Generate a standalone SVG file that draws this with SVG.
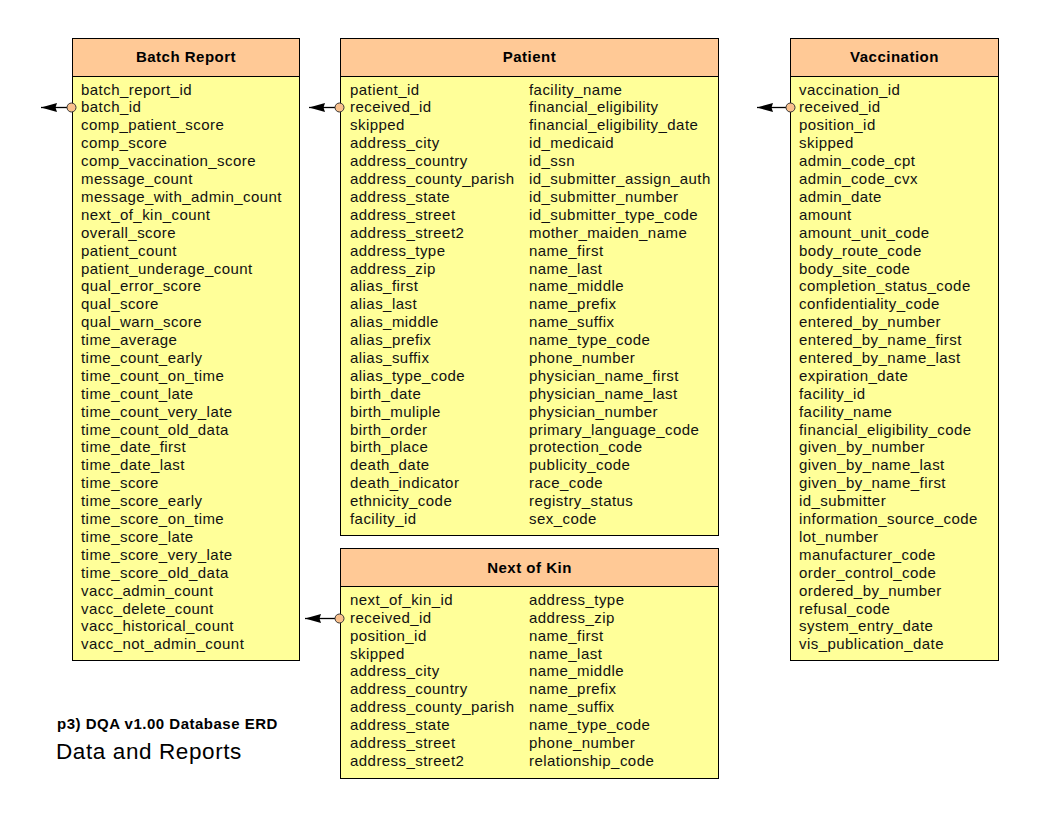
<svg xmlns="http://www.w3.org/2000/svg" width="1056" height="816" viewBox="0 0 1056 816">
<style>
.body{fill:#FFFF99;stroke:#000;stroke-width:1}
.hdr{fill:#FFC996;stroke:#000;stroke-width:1}
.ht{font-family:"Liberation Sans",Arial,sans-serif;font-size:15px;font-weight:bold;letter-spacing:0.5px;fill:#000;text-anchor:middle}
.f{font-family:"Liberation Sans",Arial,sans-serif;font-size:15px;letter-spacing:0.45px;fill:#111}
.ln{stroke:#000;stroke-width:1.3;fill:none}
.dot{fill:#F9C08C;stroke:#333;stroke-width:1}
.title{font-family:"Liberation Sans",Arial,sans-serif;font-size:15px;font-weight:bold;letter-spacing:0.5px;fill:#000}
.sub{font-family:"Liberation Sans",Arial,sans-serif;font-size:22.5px;letter-spacing:0.6px;fill:#000}
</style>
<defs>
<marker id="ah" viewBox="0 0 16 10" refX="16" refY="5" markerWidth="16" markerHeight="10" markerUnits="userSpaceOnUse" orient="auto">
<path d="M0,0.5 L16,5 L0,9.5 L1.5,5 Z" fill="#000"/>
</marker>
</defs>
<rect width="1056" height="816" fill="#fff"/>

<g id="batch_report">
<rect class="body" x="72.5" y="38.5" width="227" height="622"/>
<rect class="hdr" x="72.5" y="38.5" width="227" height="38"/>
<text class="ht" x="186" y="61.5">Batch Report</text>
<text class="f" y="94.5"><tspan x="81">batch_report_id</tspan><tspan x="81" dy="17.9">batch_id</tspan><tspan x="81" dy="17.9">comp_patient_score</tspan><tspan x="81" dy="17.9">comp_score</tspan><tspan x="81" dy="17.9">comp_vaccination_score</tspan><tspan x="81" dy="17.9">message_count</tspan><tspan x="81" dy="17.9">message_with_admin_count</tspan><tspan x="81" dy="17.9">next_of_kin_count</tspan><tspan x="81" dy="17.9">overall_score</tspan><tspan x="81" dy="17.9">patient_count</tspan><tspan x="81" dy="17.9">patient_underage_count</tspan><tspan x="81" dy="17.9">qual_error_score</tspan><tspan x="81" dy="17.9">qual_score</tspan><tspan x="81" dy="17.9">qual_warn_score</tspan><tspan x="81" dy="17.9">time_average</tspan><tspan x="81" dy="17.9">time_count_early</tspan><tspan x="81" dy="17.9">time_count_on_time</tspan><tspan x="81" dy="17.9">time_count_late</tspan><tspan x="81" dy="17.9">time_count_very_late</tspan><tspan x="81" dy="17.9">time_count_old_data</tspan><tspan x="81" dy="17.9">time_date_first</tspan><tspan x="81" dy="17.9">time_date_last</tspan><tspan x="81" dy="17.9">time_score</tspan><tspan x="81" dy="17.9">time_score_early</tspan><tspan x="81" dy="17.9">time_score_on_time</tspan><tspan x="81" dy="17.9">time_score_late</tspan><tspan x="81" dy="17.9">time_score_very_late</tspan><tspan x="81" dy="17.9">time_score_old_data</tspan><tspan x="81" dy="17.9">vacc_admin_count</tspan><tspan x="81" dy="17.9">vacc_delete_count</tspan><tspan x="81" dy="17.9">vacc_historical_count</tspan><tspan x="81" dy="17.9">vacc_not_admin_count</tspan></text>
</g>

<g id="patient">
<rect class="body" x="340.5" y="38.5" width="378" height="497"/>
<rect class="hdr" x="340.5" y="38.5" width="378" height="38"/>
<text class="ht" x="529.5" y="61.5">Patient</text>
<text class="f" y="94.5"><tspan x="350">patient_id</tspan><tspan x="350" dy="17.9">received_id</tspan><tspan x="350" dy="17.9">skipped</tspan><tspan x="350" dy="17.9">address_city</tspan><tspan x="350" dy="17.9">address_country</tspan><tspan x="350" dy="17.9">address_county_parish</tspan><tspan x="350" dy="17.9">address_state</tspan><tspan x="350" dy="17.9">address_street</tspan><tspan x="350" dy="17.9">address_street2</tspan><tspan x="350" dy="17.9">address_type</tspan><tspan x="350" dy="17.9">address_zip</tspan><tspan x="350" dy="17.9">alias_first</tspan><tspan x="350" dy="17.9">alias_last</tspan><tspan x="350" dy="17.9">alias_middle</tspan><tspan x="350" dy="17.9">alias_prefix</tspan><tspan x="350" dy="17.9">alias_suffix</tspan><tspan x="350" dy="17.9">alias_type_code</tspan><tspan x="350" dy="17.9">birth_date</tspan><tspan x="350" dy="17.9">birth_muliple</tspan><tspan x="350" dy="17.9">birth_order</tspan><tspan x="350" dy="17.9">birth_place</tspan><tspan x="350" dy="17.9">death_date</tspan><tspan x="350" dy="17.9">death_indicator</tspan><tspan x="350" dy="17.9">ethnicity_code</tspan><tspan x="350" dy="17.9">facility_id</tspan></text>
<text class="f" y="94.5"><tspan x="529">facility_name</tspan><tspan x="529" dy="17.9">financial_eligibility</tspan><tspan x="529" dy="17.9">financial_eligibility_date</tspan><tspan x="529" dy="17.9">id_medicaid</tspan><tspan x="529" dy="17.9">id_ssn</tspan><tspan x="529" dy="17.9">id_submitter_assign_auth</tspan><tspan x="529" dy="17.9">id_submitter_number</tspan><tspan x="529" dy="17.9">id_submitter_type_code</tspan><tspan x="529" dy="17.9">mother_maiden_name</tspan><tspan x="529" dy="17.9">name_first</tspan><tspan x="529" dy="17.9">name_last</tspan><tspan x="529" dy="17.9">name_middle</tspan><tspan x="529" dy="17.9">name_prefix</tspan><tspan x="529" dy="17.9">name_suffix</tspan><tspan x="529" dy="17.9">name_type_code</tspan><tspan x="529" dy="17.9">phone_number</tspan><tspan x="529" dy="17.9">physician_name_first</tspan><tspan x="529" dy="17.9">physician_name_last</tspan><tspan x="529" dy="17.9">physician_number</tspan><tspan x="529" dy="17.9">primary_language_code</tspan><tspan x="529" dy="17.9">protection_code</tspan><tspan x="529" dy="17.9">publicity_code</tspan><tspan x="529" dy="17.9">race_code</tspan><tspan x="529" dy="17.9">registry_status</tspan><tspan x="529" dy="17.9">sex_code</tspan></text>
</g>

<g id="vaccination">
<rect class="body" x="790.5" y="38.5" width="208" height="622"/>
<rect class="hdr" x="790.5" y="38.5" width="208" height="38"/>
<text class="ht" x="894.5" y="61.5">Vaccination</text>
<text class="f" y="94.5"><tspan x="799">vaccination_id</tspan><tspan x="799" dy="17.9">received_id</tspan><tspan x="799" dy="17.9">position_id</tspan><tspan x="799" dy="17.9">skipped</tspan><tspan x="799" dy="17.9">admin_code_cpt</tspan><tspan x="799" dy="17.9">admin_code_cvx</tspan><tspan x="799" dy="17.9">admin_date</tspan><tspan x="799" dy="17.9">amount</tspan><tspan x="799" dy="17.9">amount_unit_code</tspan><tspan x="799" dy="17.9">body_route_code</tspan><tspan x="799" dy="17.9">body_site_code</tspan><tspan x="799" dy="17.9">completion_status_code</tspan><tspan x="799" dy="17.9">confidentiality_code</tspan><tspan x="799" dy="17.9">entered_by_number</tspan><tspan x="799" dy="17.9">entered_by_name_first</tspan><tspan x="799" dy="17.9">entered_by_name_last</tspan><tspan x="799" dy="17.9">expiration_date</tspan><tspan x="799" dy="17.9">facility_id</tspan><tspan x="799" dy="17.9">facility_name</tspan><tspan x="799" dy="17.9">financial_eligibility_code</tspan><tspan x="799" dy="17.9">given_by_number</tspan><tspan x="799" dy="17.9">given_by_name_last</tspan><tspan x="799" dy="17.9">given_by_name_first</tspan><tspan x="799" dy="17.9">id_submitter</tspan><tspan x="799" dy="17.9">information_source_code</tspan><tspan x="799" dy="17.9">lot_number</tspan><tspan x="799" dy="17.9">manufacturer_code</tspan><tspan x="799" dy="17.9">order_control_code</tspan><tspan x="799" dy="17.9">ordered_by_number</tspan><tspan x="799" dy="17.9">refusal_code</tspan><tspan x="799" dy="17.9">system_entry_date</tspan><tspan x="799" dy="17.9">vis_publication_date</tspan></text>
</g>

<g id="next_of_kin">
<rect class="body" x="340.5" y="548.5" width="378" height="230"/>
<rect class="hdr" x="340.5" y="548.5" width="378" height="38"/>
<text class="ht" x="529.5" y="572.5">Next of Kin</text>
<text class="f" y="604.8"><tspan x="350">next_of_kin_id</tspan><tspan x="350" dy="17.9">received_id</tspan><tspan x="350" dy="17.9">position_id</tspan><tspan x="350" dy="17.9">skipped</tspan><tspan x="350" dy="17.9">address_city</tspan><tspan x="350" dy="17.9">address_country</tspan><tspan x="350" dy="17.9">address_county_parish</tspan><tspan x="350" dy="17.9">address_state</tspan><tspan x="350" dy="17.9">address_street</tspan><tspan x="350" dy="17.9">address_street2</tspan></text>
<text class="f" y="604.8"><tspan x="529">address_type</tspan><tspan x="529" dy="17.9">address_zip</tspan><tspan x="529" dy="17.9">name_first</tspan><tspan x="529" dy="17.9">name_last</tspan><tspan x="529" dy="17.9">name_middle</tspan><tspan x="529" dy="17.9">name_prefix</tspan><tspan x="529" dy="17.9">name_suffix</tspan><tspan x="529" dy="17.9">name_type_code</tspan><tspan x="529" dy="17.9">phone_number</tspan><tspan x="529" dy="17.9">relationship_code</tspan></text>
</g>

<g id="connectors">
<path class="ln" d="M67,107.5 H41" marker-end="url(#ah)"/>
<circle class="dot" cx="71.5" cy="107.5" r="4.5"/>
<path class="ln" d="M335,107.5 H309" marker-end="url(#ah)"/>
<circle class="dot" cx="339.5" cy="107.5" r="4.5"/>
<path class="ln" d="M786,107.5 H757" marker-end="url(#ah)"/>
<circle class="dot" cx="790.5" cy="107.5" r="4.5"/>
<path class="ln" d="M335,618.5 H305" marker-end="url(#ah)"/>
<circle class="dot" cx="339.5" cy="618.5" r="4.5"/>
</g>

<g id="caption">
<text class="title" x="57" y="729">p3) DQA v1.00 Database ERD</text>
<text class="sub" x="56" y="759">Data and Reports</text>
</g>
</svg>
